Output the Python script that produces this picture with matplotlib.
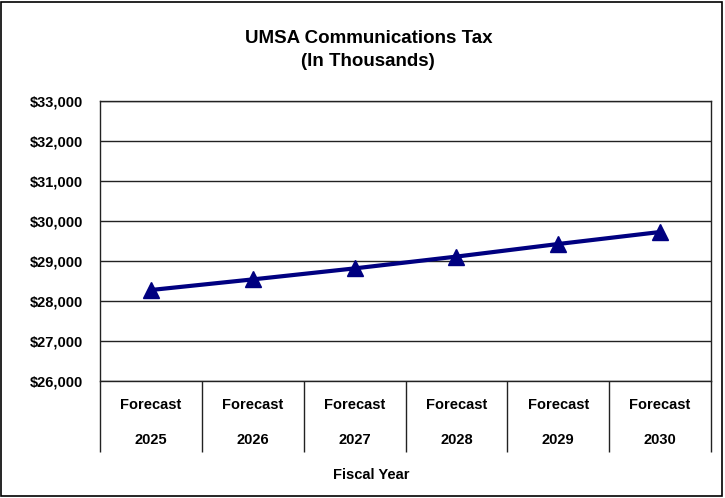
import matplotlib
matplotlib.use("Agg")
import matplotlib.pyplot as plt
from matplotlib.patches import Rectangle
from matplotlib.ticker import FuncFormatter, MultipleLocator

# data
years = ["2025", "2026", "2027", "2028", "2029", "2030"]
tax = [28275, 28540, 28815, 29110, 29425, 29725]

plt.rcParams["font.family"] = ["Liberation Sans", "DejaVu Sans"]
plt.rcParams["font.weight"] = "bold"

fig = plt.figure(figsize=(7.25, 4.98), dpi=100)
ax = fig.add_axes([100 / 725, 1 - 381 / 498, 611 / 725, 280 / 498])

x = list(range(len(years)))
ax.plot(x, tax, color="#000080", lw=3, marker="^", markersize=11, zorder=3)

ax.set_xlim(-0.5, len(years) - 0.5)
ax.set_ylim(26000, 33000)
ax.yaxis.set_major_locator(MultipleLocator(1000))
ax.yaxis.set_major_formatter(FuncFormatter(lambda v, p: f"${v:,.0f}"))
ax.grid(axis="y", color="#222222", lw=1)
ax.set_axisbelow(True)
ax.tick_params(axis="y", length=0, pad=12, labelsize=10.5)
for s in ax.spines.values():
    s.set_color("#222222")
    s.set_linewidth(1)

# category table below the axis
ax.set_xticks([i - 0.5 for i in range(len(years) + 1)])
ax.set_xticklabels([])
ax.tick_params(axis="x", direction="out", length=51, width=1, color="#222222")
for i, y in enumerate(years):
    ax.text(i, -0.085, "Forecast", transform=ax.get_xaxis_transform(),
            ha="center", va="center", fontsize=10.5)
    ax.text(i, -0.21, y, transform=ax.get_xaxis_transform(),
            ha="center", va="center", fontsize=10.5)

fig.text(0.508, 1 - 38 / 498, "UMSA Communications Tax", ha="center", va="center", fontsize=13.5)
fig.text(0.508, 1 - 62 / 498, "(In Thousands)", ha="center", va="center", fontsize=13.5)
fig.text(0.512, 1 - 475 / 498, "Fiscal Year", ha="center", va="center", fontsize=10.5)

fig.patches.append(Rectangle((1 / 725, 2 / 498), 721 / 725, 494 / 498, transform=fig.transFigure,
                             fill=False, edgecolor="black", lw=1.2))

fig.savefig("out.png", dpi=100)
